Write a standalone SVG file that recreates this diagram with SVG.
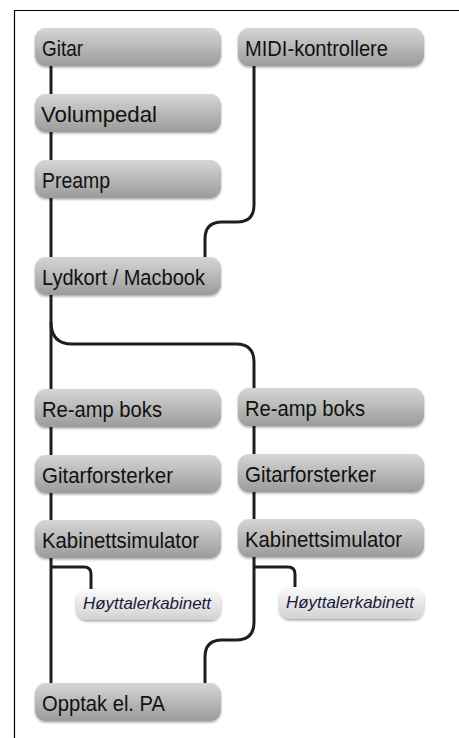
<svg xmlns="http://www.w3.org/2000/svg" width="459" height="738" viewBox="0 0 459 738">
<style>
.frame{stroke:#000;stroke-width:1.2;fill:none}
.wire{stroke:#1e1e1e;stroke-width:3;fill:none;stroke-linecap:butt}
.box{fill:url(#gBox);filter:url(#sh)}
.sbox{fill:url(#gSmall);filter:url(#sh)}
.lbl{font-family:"Liberation Sans",Arial,sans-serif;font-size:22px;fill:#111}
.slbl{font-family:"Liberation Sans",Arial,sans-serif;font-size:17px;font-style:italic;fill:#1a1a3a}
</style>
<defs>
<linearGradient id="gBox" x1="0" y1="0" x2="0" y2="1">
<stop offset="0" stop-color="#d6d6d6"/>
<stop offset="1" stop-color="#9b9b9b"/>
</linearGradient>
<linearGradient id="gSmall" x1="0" y1="0" x2="0" y2="1">
<stop offset="0" stop-color="#fbfbfb"/>
<stop offset="1" stop-color="#d2d2d2"/>
</linearGradient>
<filter id="sh" x="-10%" y="-20%" width="120%" height="150%">
<feDropShadow dx="0" dy="1.5" stdDeviation="1.2" flood-color="#000" flood-opacity="0.35"/>
</filter>
</defs>
<rect width="459" height="738" fill="#fff"/>
<path class="frame" d="M14.5,738 V10.5 H459"/>
<g id="connectors">
<path class="wire" d="M51,66 V95"/>
<path class="wire" d="M51,132 V161"/>
<path class="wire" d="M51,197 V258"/>
<path class="wire" d="M51,295 V390"/>
<path class="wire" d="M51,426 V456"/>
<path class="wire" d="M51,492 V521"/>
<path class="wire" d="M51,557 V684"/>
<path class="wire" d="M254,66 V205 Q254,222 237,222 H222 Q205,222 205,239 V258"/>
<path class="wire" d="M51,322 Q51,344 72,344 H236 Q254,344 254,362 V389"/>
<path class="wire" d="M254,426 V455"/>
<path class="wire" d="M254,492 V520"/>
<path class="wire" d="M51,567 H84 Q91,567 91,574 V590"/>
<path class="wire" d="M254,567 H288 Q295,567 295,574 V588"/>
<path class="wire" d="M254,557 V622 Q254,640 236,640 H222 Q205,640 205,657 V684"/>
</g>
<g id="n-gitar"><rect class="box" x="35" y="28" width="186" height="38" rx="11"/><text class="lbl" x="42" y="56" textLength="41" lengthAdjust="spacingAndGlyphs">Gitar</text></g>
<g id="n-volumpedal"><rect class="box" x="35" y="94" width="186" height="38" rx="11"/><text class="lbl" x="41" y="122" textLength="116" lengthAdjust="spacingAndGlyphs">Volumpedal</text></g>
<g id="n-preamp"><rect class="box" x="35" y="160" width="186" height="38" rx="11"/><text class="lbl" x="42" y="188" textLength="68" lengthAdjust="spacingAndGlyphs">Preamp</text></g>
<g id="n-midi"><rect class="box" x="238" y="28" width="186" height="38" rx="11"/><text class="lbl" x="245" y="56" textLength="143" lengthAdjust="spacingAndGlyphs">MIDI-kontrollere</text></g>
<g id="n-lydkort"><rect class="box" x="35" y="257" width="186" height="38" rx="11"/><text class="lbl" x="42" y="285" textLength="163" lengthAdjust="spacingAndGlyphs">Lydkort / Macbook</text></g>
<g id="n-reamp1"><rect class="box" x="35" y="389" width="186" height="38" rx="11"/><text class="lbl" x="42" y="417" textLength="120" lengthAdjust="spacingAndGlyphs">Re-amp boks</text></g>
<g id="n-gitarforsterker1"><rect class="box" x="35" y="455" width="186" height="38" rx="11"/><text class="lbl" x="42" y="483" textLength="131" lengthAdjust="spacingAndGlyphs">Gitarforsterker</text></g>
<g id="n-kabinettsim1"><rect class="box" x="35" y="520" width="186" height="38" rx="11"/><text class="lbl" x="42" y="548" textLength="157" lengthAdjust="spacingAndGlyphs">Kabinettsimulator</text></g>
<g id="n-hoyttaler1"><rect class="sbox" x="76" y="589" width="145" height="31" rx="11"/><text class="slbl" x="83" y="609" textLength="128" lengthAdjust="spacingAndGlyphs">Høyttalerkabinett</text></g>
<g id="n-reamp2"><rect class="box" x="238" y="388" width="186" height="38" rx="11"/><text class="lbl" x="245" y="416" textLength="120" lengthAdjust="spacingAndGlyphs">Re-amp boks</text></g>
<g id="n-gitarforsterker2"><rect class="box" x="238" y="454" width="186" height="38" rx="11"/><text class="lbl" x="245" y="482" textLength="131" lengthAdjust="spacingAndGlyphs">Gitarforsterker</text></g>
<g id="n-kabinettsim2"><rect class="box" x="238" y="519" width="186" height="38" rx="11"/><text class="lbl" x="245" y="547" textLength="157" lengthAdjust="spacingAndGlyphs">Kabinettsimulator</text></g>
<g id="n-hoyttaler2"><rect class="sbox" x="279" y="587" width="145" height="32" rx="11"/><text class="slbl" x="286" y="608" textLength="128" lengthAdjust="spacingAndGlyphs">Høyttalerkabinett</text></g>
<g id="n-opptak"><rect class="box" x="35" y="683" width="186" height="38" rx="11"/><text class="lbl" x="42" y="711" textLength="123" lengthAdjust="spacingAndGlyphs">Opptak el. PA</text></g>
</svg>
